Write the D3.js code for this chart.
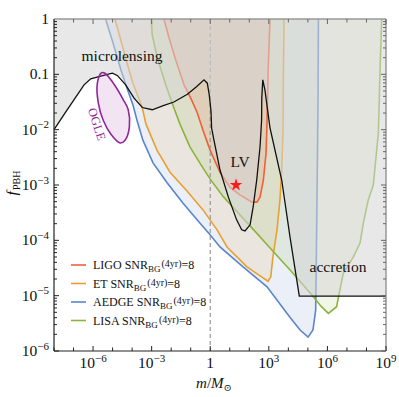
<!DOCTYPE html>
<html><head><meta charset="utf-8">
<script src="https://cdn.jsdelivr.net/npm/d3@7"></script>
<style>body{margin:0;background:#fff}text{font-family:"Liberation Serif","DejaVu Serif",serif}</style>
</head><body>
<svg id="c" width="399" height="397"></svg>
<script>
// ---- data: [log10(m/Msun), log10(f_PBH)] ----
const xTickExps = [-6, -3, 0, 3, 6, 9];
const yTickLabels = [["10","−6"],["10","−5"],["10","−4"],["10","−3"],["10","−2"],["0.1",""],["1",""]];
const yTickExps = [-6, -5, -4, -3, -2, -1, 0];

const constraintLog = [[-8,-2.00],[-7.49,-1.73],[-6.98,-1.46],[-6.46,-1.19],[-6.12,-1.08],[-5.70,-1.04],[-5.01,-0.98],[-4.76,-1.02],[-4.33,-1.19],[-3.90,-1.43],[-3.48,-1.60],[-2.97,-1.64],[-2.37,-1.56],[-1.86,-1.50],[-1.17,-1.36],[-0.69,-1.22],[-0.32,-1.10],[-0.15,-1.16],[-0.05,-1.37],[0.04,-1.67],[0.07,-1.97],[0.19,-2.19],[0.50,-2.73],[0.92,-3.21],[1.35,-3.63],[1.61,-3.81],[1.78,-3.83],[2.04,-3.72],[2.20,-3.39],[2.38,-2.91],[2.55,-2.31],[2.63,-1.83],[2.64,-1.43],[2.69,-1.10],[2.80,-1.28],[3.06,-1.97],[3.66,-2.91],[4.08,-3.93],[4.56,-5.01],[9,-5.01]];

const aedgeLog = [[-5.36,0],[-4.98,-0.43],[-4.57,-0.92],[-4.26,-1.25],[-3.96,-1.55],[-3.75,-1.83],[-3.45,-2.19],[-2.93,-2.60],[-2.21,-2.96],[-1.39,-3.33],[-0.52,-3.69],[-0.01,-3.90],[0.50,-4.12],[1.68,-4.48],[2.91,-4.84],[4.08,-5.39],[4.60,-5.62],[5.01,-5.75],[5.26,-5.62],[5.40,-5.26],[5.45,-3.81],[5.52,-1.46],[5.54,0]];

const etLog = [[-4.88,0],[-4.62,-0.33],[-4.26,-0.80],[-3.96,-1.16],[-3.49,-1.59],[-3.29,-1.90],[-2.73,-2.37],[-2.06,-2.77],[-1.19,-3.11],[-0.37,-3.45],[0.35,-3.81],[0.86,-4.12],[1.88,-4.48],[2.70,-4.68],[2.96,-4.74],[3.10,-4.66],[3.21,-4.30],[3.42,-3.81],[3.57,-3.27],[3.66,-2.73],[3.73,-1.97],[3.74,-1.19],[3.78,0]];

const lisaLog = [[-3.02,0],[-2.97,-0.29],[-2.71,-0.70],[-2.28,-1.19],[-1.86,-1.61],[-1.55,-1.90],[-1.04,-2.31],[-0.52,-2.61],[-0.01,-2.89],[0.67,-3.21],[1.52,-3.54],[2.38,-3.87],[2.89,-4.07],[4.25,-4.60],[5.28,-5.02],[5.67,-5.19],[6.05,-5.32],[6.47,-5.20],[6.64,-4.90],[6.81,-4.60],[7.33,-4.30],[7.67,-4.05],[7.84,-3.69],[8.09,-3.27],[8.35,-3.00],[8.61,-2.06],[8.69,-0.98],[8.78,0]];

const ligoLog = [[-2.37,0],[-2.11,-0.34],[-1.75,-0.76],[-1.34,-1.19],[-1.00,-1.43],[-0.68,-1.68],[-0.37,-2.01],[-0.01,-2.37],[0.50,-2.77],[1.01,-3.04],[1.52,-3.18],[2.14,-3.31],[2.39,-3.31],[2.55,-3.22],[2.72,-2.91],[2.86,-2.42],[2.91,-1.83],[2.97,-0.89],[3.06,0]];

const ogleLog = [[-5.56,-0.97],[-5.78,-1.16],[-5.73,-1.52],[-5.48,-1.83],[-5.05,-2.10],[-4.62,-2.24],[-4.36,-2.19],[-4.14,-1.95],[-4.20,-1.64],[-4.45,-1.46],[-4.96,-1.16],[-5.39,-0.98]];

const lvEvent = [1.32, -3.0];

const seriesNames = ["LIGO", "ET", "AEDGE", "LISA"];
const seriesData = [ligoLog, etLog, aedgeLog, lisaLog];
const seriesColors = ["#f0603a", "#e8a030", "#5a86c8", "#8cb43c"];

// ---- scales ----
const x = d3.scaleLog().domain([1e-8, 1e9]).range([54, 386]);
const y = d3.scaleLog().domain([1e-6, 1]).range([351, 19]);
const X = a => x(Math.pow(10, a));
const Y = b => y(Math.pow(10, b));

const svg = d3.select('#c');
svg.append('defs').append('clipPath').attr('id', 'clip')
  .append('rect').attr('x', 54).attr('y', 19).attr('width', 332).attr('height', 332);
const plot = svg.append('g').attr('clip-path', 'url(#clip)');

const line = d3.line().x(d => X(d[0])).y(d => Y(d[1]));

// GW fills
const fillOrder = [2, 1, 3, 0];
fillOrder.forEach(i => {
  const d = seriesData[i];
  const poly = [[d[0][0], 0.3], ...d, [d[d.length - 1][0], 0.3]];
  plot.append('path').attr('d', line(poly) + 'Z')
    .attr('fill', seriesColors[i]).attr('fill-opacity', 0.12).attr('stroke', 'none');
});
fillOrder.forEach(i => {
  plot.append('path').attr('d', line(seriesData[i]))
    .attr('fill', 'none').attr('stroke', seriesColors[i]).attr('stroke-width', 1.6);
});

// dashed line at m = 1
plot.append('line').attr('x1', x(1)).attr('x2', x(1)).attr('y1', 19).attr('y2', 351)
  .attr('stroke', '#999').attr('stroke-width', 1.2).attr('stroke-dasharray', '4,3');

// excluded region (grey)
const greyPoly = [[-8, 0.3], ...constraintLog, [9, 0.3]];
plot.append('path').attr('d', line(greyPoly) + 'Z')
  .attr('fill', '#d6d6d6').attr('fill-opacity', 0.55).attr('stroke', 'none');
plot.append('path').attr('d', line(constraintLog))
  .attr('fill', 'none').attr('stroke', '#111').attr('stroke-width', 1.3);

// OGLE
const ogleLine = d3.line().x(d => X(d[0])).y(d => Y(d[1])).curve(d3.curveCatmullRomClosed);
plot.append('path').attr('d', ogleLine(ogleLog))
  .attr('fill', '#a0309f').attr('fill-opacity', 0.13)
  .attr('stroke', '#93259a').attr('stroke-width', 1.6);
svg.append('text').attr('transform', 'translate(97,124) rotate(72)')
  .attr('text-anchor', 'middle').attr('dy', '0.35em')
  .attr('font-size', 12.5).attr('fill', '#93259a').text('OGLE');

// LV star
plot.append('path').attr('d', d3.symbol(d3.symbolStar).size(50)())
  .attr('transform', `translate(${X(lvEvent[0])},${Y(lvEvent[1])})`)
  .attr('fill', '#ff1a1a');

// labels
svg.append('text').attr('x', 122).attr('y', 61).attr('text-anchor', 'middle')
  .attr('font-size', 15.5).attr('fill', '#111').text('microlensing');
svg.append('text').attr('x', 240).attr('y', 167).attr('text-anchor', 'middle')
  .attr('font-size', 15.5).attr('fill', '#111').text('LV');
svg.append('text').attr('x', 338).attr('y', 272).attr('text-anchor', 'middle')
  .attr('font-size', 15.5).attr('fill', '#111').text('accretion');

// legend
const legRows = [265, 283.5, 302, 320.5];
seriesNames.forEach((n, i) => {
  const yy = legRows[i];
  svg.append('line').attr('x1', 71).attr('x2', 86).attr('y1', yy).attr('y2', yy)
    .attr('stroke', seriesColors[i]).attr('stroke-width', 1.6);
  const t = svg.append('text').attr('x', 93).attr('y', yy + 4).attr('font-size', 12).attr('fill', '#111');
  t.append('tspan').text(n + ' SNR');
  t.append('tspan').attr('font-size', 9).attr('dy', 3).text('BG');
  t.append('tspan').attr('font-size', 10).attr('dy', -5).attr('dx', 1).text('(4yr)');
  t.append('tspan').attr('font-size', 12).attr('dy', 2).text('=8');
});

// axes frame
svg.append('line').attr('x1', 54).attr('x2', 386).attr('y1', 19).attr('y2', 19).attr('stroke', '#999').attr('stroke-width', 1.5);
svg.append('line').attr('x1', 386).attr('x2', 386).attr('y1', 19).attr('y2', 351).attr('stroke', '#999').attr('stroke-width', 1.5);
svg.append('line').attr('x1', 54).attr('x2', 386).attr('y1', 351).attr('y2', 351).attr('stroke', '#222').attr('stroke-width', 1.2);
svg.append('line').attr('x1', 54).attr('x2', 54).attr('y1', 19).attr('y2', 351).attr('stroke', '#222').attr('stroke-width', 1.2);

// x ticks
d3.range(-8, 10).forEach(e => {
  const px = X(e);
  const L = xTickExps.includes(e) ? 5 : 3.5;
  svg.append('line').attr('x1', px).attr('x2', px).attr('y1', 351).attr('y2', 351 - L).attr('stroke', '#222');
  svg.append('line').attr('x1', px).attr('x2', px).attr('y1', 19).attr('y2', 19 + L).attr('stroke', '#666');
});
xTickExps.forEach(e => {
  const t = svg.append('text').attr('x', X(e)).attr('y', 368).attr('text-anchor', 'middle')
    .attr('font-size', 15.5).attr('fill', '#111');
  if (e === 0) { t.text('1'); }
  else {
    t.append('tspan').text('10');
    t.append('tspan').attr('font-size', 11).attr('dy', -6.5).text(e < 0 ? '−' + (-e) : String(e));
  }
});

// y ticks
d3.range(-6, 0).forEach(e => {
  d3.range(1, 10).forEach(k => {
    const v = k * Math.pow(10, e);
    const py = y(v);
    const L = k === 1 ? 5 : 3;
    svg.append('line').attr('x1', 54).attr('x2', 54 + L).attr('y1', py).attr('y2', py).attr('stroke', '#222');
    svg.append('line').attr('x1', 386).attr('x2', 386 - L).attr('y1', py).attr('y2', py).attr('stroke', '#666');
  });
});
yTickExps.forEach((e, i) => {
  const t = svg.append('text').attr('x', 49).attr('y', Y(e) + 5).attr('text-anchor', 'end')
    .attr('font-size', 15.5).attr('fill', '#111');
  const [base, sup] = yTickLabels[i];
  t.append('tspan').text(base);
  if (sup) t.append('tspan').attr('font-size', 11).attr('dy', -6.5).text(sup);
});

// axis titles
const xl = svg.append('text').attr('x', 214).attr('y', 388).attr('text-anchor', 'middle')
  .attr('font-size', 15).attr('fill', '#111');
xl.append('tspan').attr('font-style', 'italic').text('m');
xl.append('tspan').text('/');
xl.append('tspan').attr('font-style', 'italic').text('M');
xl.append('tspan').attr('font-size', 10).attr('dy', 3).text('⊙');

const yl = svg.append('text').attr('transform', 'translate(17,183) rotate(-90)')
  .attr('text-anchor', 'middle').attr('font-size', 15.5).attr('fill', '#111');
yl.append('tspan').attr('font-style', 'italic').text('f');
yl.append('tspan').attr('font-size', 10).attr('dy', 3).attr('dx', 1).text('PBH');
</script>
</body></html>
